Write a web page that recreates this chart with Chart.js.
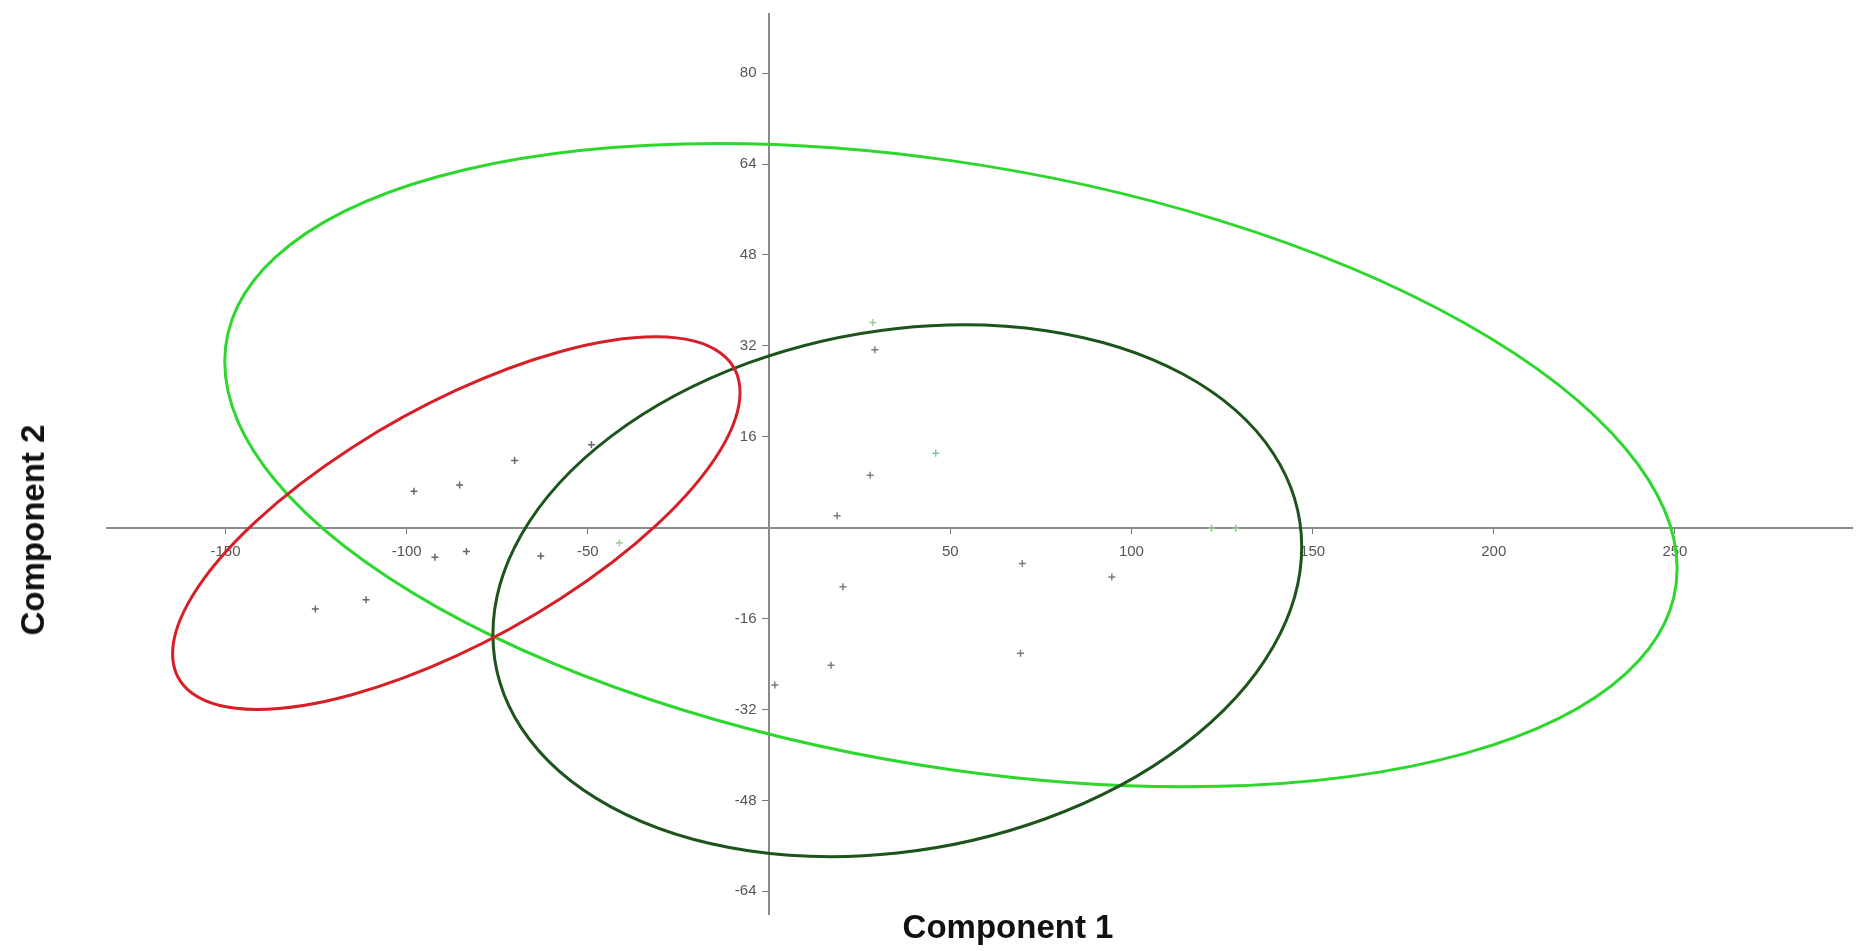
<!DOCTYPE html>
<html>
<head>
<meta charset="utf-8">
<script src="https://cdn.jsdelivr.net/npm/chart.js@4.4.1/dist/chart.umd.min.js"></script>
<style>
  html, body { margin: 0; padding: 0; background: #fff; }
  #wrap { position: relative; width: 1858px; height: 951px; }
  .axis-title { position: absolute; font-family: 'Liberation Sans', Arial, sans-serif; font-weight: bold; font-size: 33px; color: #111; white-space: nowrap; }
  #titleX { left: 1008px; top: 927px; transform: translate(-50%, -50%); }
  #titleY { left: 33px; top: 530px; transform: translate(-50%, -50%) rotate(-90deg); }
</style>
</head>
<body>
<div id="wrap">
  <canvas id="chart"></canvas>
  <div class="axis-title" id="titleX">Component 1</div>
  <div class="axis-title" id="titleY">Component 2</div>
</div>
<script>
// scores
const groupRedX = [-49.0, -70.2, -85.4, -98.0, -92.2, -83.5, -63.0, -111.2, -125.2];
const groupRedY = [14.6, 11.8, 7.5, 6.4, -5.2, -4.2, -5.0, -12.7, -14.3];
const groupDarkX = [29.2, 27.9, 18.8, 20.4, 69.9, 94.6, 69.4, 17.1, 1.6];
const groupDarkY = [31.3, 9.2, 2.1, -10.4, -6.3, -8.7, -22.1, -24.2, -27.7];
const groupLightX = [-41.3, 28.6, 46.0, 122.1, 128.8];
const groupLightY = [-2.7, 36.1, 13.1, -0.1, -0.1];

// confidence ellipses (data units): centre, half width, half height,
// and y offset of the rightmost point from the centre
const ellipseNames = ['light', 'dark', 'red'];
const ellipseCenterX = [50.2, 35.4, -86.3];
const ellipseCenterY = [11.0, -11.1, 0.8];
const ellipseHalfWidth = [200.4, 111.6, 78.3];
const ellipseHalfHeight = [56.6, 46.8, 32.8];
const ellipseTilt = [-18.2, 7.7, 23.0];

const xTicksStep = 50;
const yTicksStep = 16;

const ellipseColors = ['rgb(45, 215, 45)', 'rgb(28, 84, 28)', 'rgb(214, 32, 40)'];

function toPoints(xs, ys) {
  return xs.map((x, i) => ({ x: x, y: ys[i] }));
}

const ellipsePlugin = {
  id: 'ellipses',
  afterDatasetsDraw(chart) {
    const { ctx } = chart;
    const sx = chart.scales.x, sy = chart.scales.y;
    ctx.save();
    ellipseNames.forEach((name, i) => {
      const cx = sx.getPixelForValue(ellipseCenterX[i]);
      const cy = sy.getPixelForValue(ellipseCenterY[i]);
      const w = sx.getPixelForValue(ellipseCenterX[i] + ellipseHalfWidth[i]) - cx;
      const h = cy - sy.getPixelForValue(ellipseCenterY[i] + ellipseHalfHeight[i]);
      const t = sy.getPixelForValue(ellipseCenterY[i] + ellipseTilt[i]) - cy;
      const by = Math.sqrt(Math.max(h * h - t * t, 1));
      ctx.save();
      ctx.beginPath();
      ctx.transform(w, t, 0, by, cx, cy);
      ctx.arc(0, 0, 1, 0, Math.PI * 2);
      ctx.restore();
      ctx.strokeStyle = ellipseColors[i];
      ctx.lineWidth = 3;
      ctx.stroke();
    });
    ctx.restore();
  }
};

const tickFont = { family: "'Liberation Sans', Arial, sans-serif", size: 15 };

new Chart(document.getElementById('chart'), {
  type: 'scatter',
  data: {
    datasets: [
      {
        label: 'Group 1',
        data: toPoints(groupRedX, groupRedY),
        pointStyle: 'cross',
        radius: 3.5,
        borderWidth: 1.5,
        borderColor: '#6e6468',
        backgroundColor: '#6e6468'
      },
      {
        label: 'Group 2',
        data: toPoints(groupDarkX, groupDarkY),
        pointStyle: 'cross',
        radius: 3.5,
        borderWidth: 1.5,
        borderColor: '#7a7f7a',
        backgroundColor: '#7a7f7a'
      },
      {
        label: 'Group 3',
        data: toPoints(groupLightX, groupLightY),
        pointStyle: 'cross',
        radius: 3.5,
        borderWidth: 1.5,
        borderColor: ['#9ccf9c', '#9ccf9c', '#7fbfb5', '#8fc48f', '#8fc48f'],
        backgroundColor: '#9ccf9c'
      }
    ]
  },
  options: {
    responsive: true,
    maintainAspectRatio: false,
    animation: false,
    layout: { padding: { left: 107, right: 0, top: 14, bottom: 37 } },
    plugins: { legend: { display: false }, tooltip: { enabled: false } },
    scales: {
      x: {
        type: 'linear',
        position: { y: 0 },
        min: -182.7,
        max: 299,
        afterFit: (s) => { s.height = 0; s.paddingLeft = 0; s.paddingRight = 0; },
        grid: { drawOnChartArea: false, drawTicks: true, tickLength: 5, color: '#777', lineWidth: 1 },
        border: { color: '#8a8a8a', width: 2 },
        ticks: {
          stepSize: xTicksStep,
          includeBounds: false,
          maxRotation: 0,
          autoSkip: false,
          padding: 10,
          color: '#555',
          font: tickFont,
          callback: (v) => (v === 0 ? '' : v)
        }
      },
      y: {
        type: 'linear',
        position: { x: 0 },
        min: -68,
        max: 90.4,
        afterFit: (s) => { s.width = 0; s.paddingTop = 0; s.paddingBottom = 0; },
        grid: { drawOnChartArea: false, drawTicks: true, tickLength: 6, color: '#777', lineWidth: 1 },
        border: { color: '#8a8a8a', width: 2 },
        ticks: {
          stepSize: yTicksStep,
          includeBounds: false,
          autoSkip: false,
          color: '#555',
          font: tickFont,
          // centre-positioned y axis ignores ticks.padding, so keep the gap with spaces
          callback: (v) => (v === 0 ? '' : v + '   ')
        }
      }
    }
  },
  plugins: [ellipsePlugin]
});
</script>
</body>
</html>
